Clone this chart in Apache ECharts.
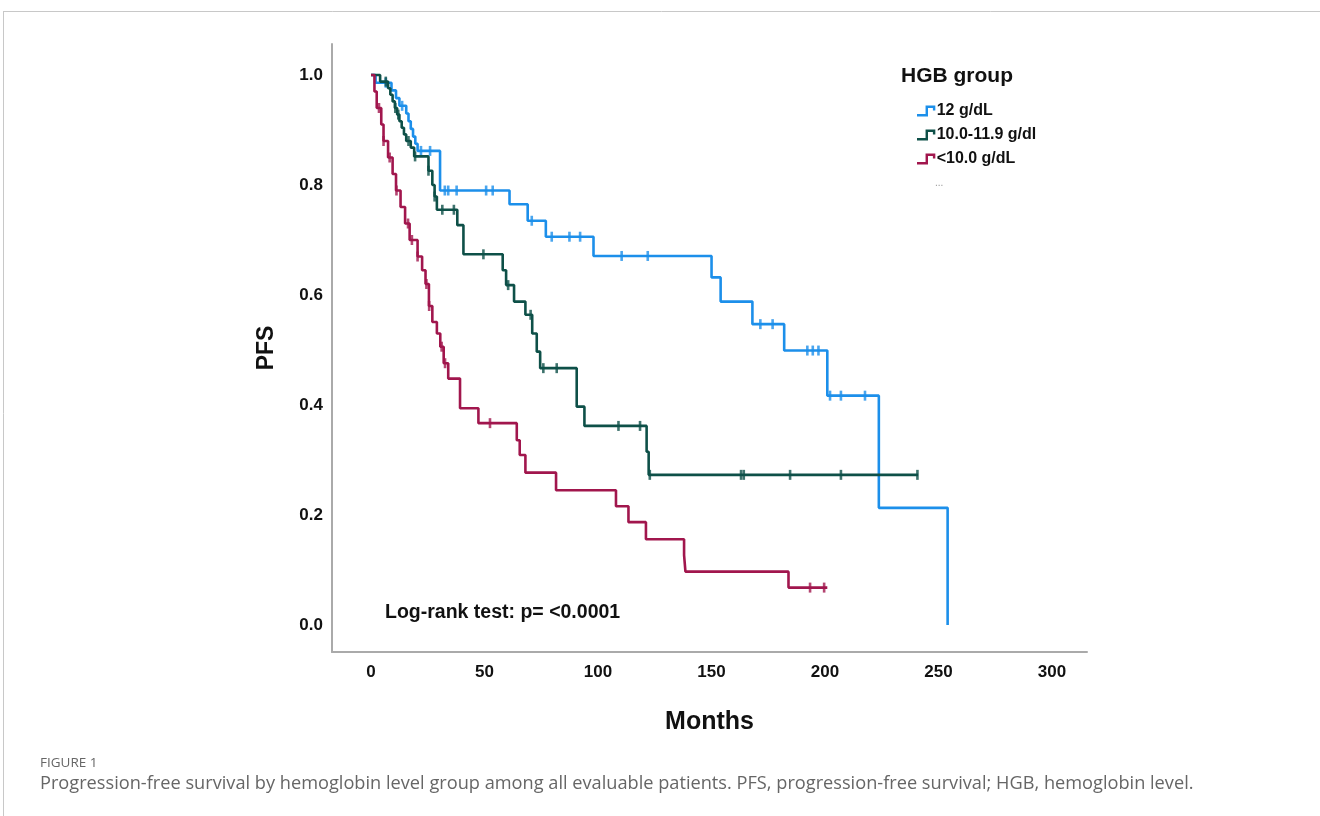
<!DOCTYPE html>
<html>
<head>
<meta charset="utf-8">
<script src="https://cdn.jsdelivr.net/npm/echarts@6/dist/echarts.min.js"></script>
<style>
html,body{margin:0;padding:0;background:#fff;}
#chart{width:1320px;height:816px;}
</style>
</head>
<body>
<div id="chart"></div>
<script>
// ---- Data ----
const groupNames = ['12 g/dL', '10.0-11.9 g/dl', '<10.0 g/dL'];
const xTicks = [0, 50, 100, 150, 200, 250, 300];
const yTicks = [0, 0.2, 0.4, 0.6, 0.8, 1.0];

// Group 1: 12 g/dL
const blueTimes = [0, 2, 9, 11, 12.5, 15.5, 16.5, 17.5, 18.5, 19.5, 20.5, 30.4, 61, 69, 77, 98, 150, 154, 168, 182, 201, 223.7, 254];
const blueSurv  = [1.0, 0.986, 0.972, 0.958, 0.944, 0.930, 0.916, 0.902, 0.888, 0.875, 0.862, 0.790, 0.765, 0.735, 0.706, 0.671, 0.632, 0.588, 0.547, 0.499, 0.417, 0.213, 0.0];
const blueEnd = 254;
const blueCensor = [6.5, 13.7, 22, 26, 32.5, 34, 37.7, 50.7, 53.6, 70.8, 79.6, 87.4, 92.1, 110.4, 121.9, 171.5, 176.9, 192.2, 194.6, 197.1, 202.2, 207, 217.6];

// Group 2: 10.0-11.9 g/dl
const greenTimes = [0, 4, 7.5, 8.5, 9.5, 10.5, 11.5, 12.5, 13.5, 14.5, 15.5, 17.5, 19, 25.3, 27, 28, 29, 38, 40.7, 58, 59.5, 63, 68, 71, 73, 74.5, 90.6, 94, 121.4, 122.3];
const greenSurv  = [1.0, 0.988, 0.976, 0.964, 0.952, 0.940, 0.928, 0.916, 0.904, 0.892, 0.880, 0.868, 0.852, 0.826, 0.800, 0.779, 0.755, 0.727, 0.674, 0.645, 0.618, 0.588, 0.564, 0.530, 0.497, 0.467, 0.397, 0.362, 0.315, 0.273];
const greenEnd = 241;
const greenCensor = [6.5, 10.7, 12, 16.5, 19.4, 25.3, 28, 31.4, 36.5, 49.5, 60.4, 70.3, 75.9, 81.8, 109, 118.5, 122.8, 163, 164.2, 184.6, 207, 240.7];

// Group 3: <10.0 g/dL
const redTimes = [0, 1.5, 2.5, 4.5, 5.5, 7.5, 9.5, 11, 13, 15, 17, 20.5, 22.5, 24, 25.5, 27, 29, 30.5, 32, 34, 39.2, 47.3, 64.2, 65.5, 68, 81.5, 107.9, 113.4, 121.1, 137.9, 138.5, 183.9];
const redSurv  = [1.0, 0.97, 0.94, 0.91, 0.88, 0.85, 0.82, 0.79, 0.76, 0.73, 0.70, 0.67, 0.645, 0.62, 0.58, 0.551, 0.530, 0.506, 0.476, 0.448, 0.394, 0.367, 0.336, 0.309, 0.277, 0.245, 0.216, 0.187, 0.156, 0.127, 0.097, 0.068];
const redEnd = 201;
const redCensor = [3.5, 5.5, 8.2, 11.2, 16.3, 18, 20.5, 24.4, 25.6, 31.1, 32.6, 52.4, 193.4, 199.6];

const colors = ['#1C8FEA', '#0E5048', '#A1164D'];

// ---- Helpers ----
function stepData(times, surv, endT) {
  const d = times.map((t, i) => [t, surv[i]]);
  const last = times[times.length - 1];
  if (endT > last) d.push([endT, surv[surv.length - 1]]);
  return d;
}
function survAt(times, surv, t) {
  let s = surv[0];
  for (let i = 0; i < times.length; i++) { if (times[i] <= t) s = surv[i]; }
  return s;
}
function censorData(times, surv, cens) {
  return cens.map(t => [t, survAt(times, surv, t)]);
}

const groups = [
  [blueTimes, blueSurv, blueEnd, blueCensor],
  [greenTimes, greenSurv, greenEnd, greenCensor],
  [redTimes, redSurv, redEnd, redCensor]
];

const series = [];
groups.forEach((g, i) => {
  series.push({
    name: groupNames[i], type: 'line', step: 'end',
    data: stepData(g[0], g[1], g[2]),
    symbol: 'none', lineStyle: { color: colors[i], width: 2.6 },
    itemStyle: { color: colors[i] }, z: 3 + i
  });
  series.push({
    name: groupNames[i] + ' censored', type: 'scatter',
    data: censorData(g[0], g[1], g[3]),
    symbol: 'rect', symbolSize: [2.6, 10],
    itemStyle: { color: colors[i] }, z: 3 + i
  });
});

const FONT = 'Liberation Sans, Arial, sans-serif';
const legendIcon = 'path://M0,8 L7,8 L7,1 L15,1 L15,5 L13,5 L13,3 L9,3 L9,10 L0,10 Z';

const chart = echarts.init(document.getElementById('chart'), null, { renderer: 'canvas' });
chart.setOption({
  animation: false,
  backgroundColor: '#fff',
  grid: { left: 332, right: 233, top: 44, bottom: 164, containLabel: false },
  title: {
    text: 'HGB group', left: 896, top: 61,
    textStyle: { fontFamily: FONT, fontSize: 21, fontWeight: 'bold', color: '#111' }
  },
  legend: {
    data: groupNames.map((n, i) => ({ name: n, icon: legendIcon, itemStyle: { color: colors[i] } })),
    orient: 'vertical', left: 912, top: 98,
    itemWidth: 19, itemHeight: 11, itemGap: 8,
    textStyle: { fontFamily: FONT, fontSize: 16, fontWeight: 'bold', color: '#111', padding: [0, 0, 0, -4] },
    selectedMode: false
  },
  xAxis: {
    type: 'value', min: -17.2, max: 315.4,
    name: 'Months', nameLocation: 'middle', nameGap: 58,
    nameTextStyle: { fontFamily: FONT, fontSize: 25, fontWeight: 'bold', color: '#111' },
    axisLine: { show: true, onZero: false, lineStyle: { color: '#aaaaaa', width: 2 } },
    axisTick: { show: false },
    splitLine: { show: false },
    axisLabel: { customValues: xTicks, fontFamily: FONT, fontSize: 17, fontWeight: 'bold', color: '#111', margin: 12 }
  },
  yAxis: {
    type: 'value', min: -0.0491, max: 1.0564,
    name: 'PFS', nameLocation: 'middle', nameGap: 54, nameRotate: 90,
    nameTextStyle: { fontFamily: FONT, fontSize: 23, fontWeight: 'bold', color: '#111' },
    axisLine: { show: true, onZero: false, lineStyle: { color: '#aaaaaa', width: 2 } },
    axisTick: { show: false },
    splitLine: { show: false },
    axisLabel: { customValues: yTicks, formatter: v => v.toFixed(1), fontFamily: FONT, fontSize: 17, fontWeight: 'bold', color: '#111', margin: 9 }
  },
  graphic: [
    { type: 'line', shape: { x1: 3, y1: 11.5, x2: 1320, y2: 11.5 }, style: { stroke: '#c8c8c8', lineWidth: 1 } },
    { type: 'line', shape: { x1: 3.5, y1: 11, x2: 3.5, y2: 816 }, style: { stroke: '#c8c8c8', lineWidth: 1 } },
    { type: 'text', left: 385, top: 603, style: { text: 'Log-rank test: p= <0.0001', font: 'bold 19.5px ' + FONT, fill: '#111' } },
    { type: 'text', left: 935, top: 178, style: { text: '...', font: '10px ' + FONT, fill: '#999' } },
    { type: 'text', left: 40, top: 756, style: { text: 'FIGURE 1', font: '13.5px "Open Sans", sans-serif', fill: '#666' } },
    { type: 'text', left: 40, top: 775, style: { text: 'Progression-free survival by hemoglobin level group among all evaluable patients. PFS, progression-free survival; HGB, hemoglobin level.', font: '18.2px "Open Sans", sans-serif', fill: '#666' } }
  ],
  series: series
});
</script>
</body>
</html>
